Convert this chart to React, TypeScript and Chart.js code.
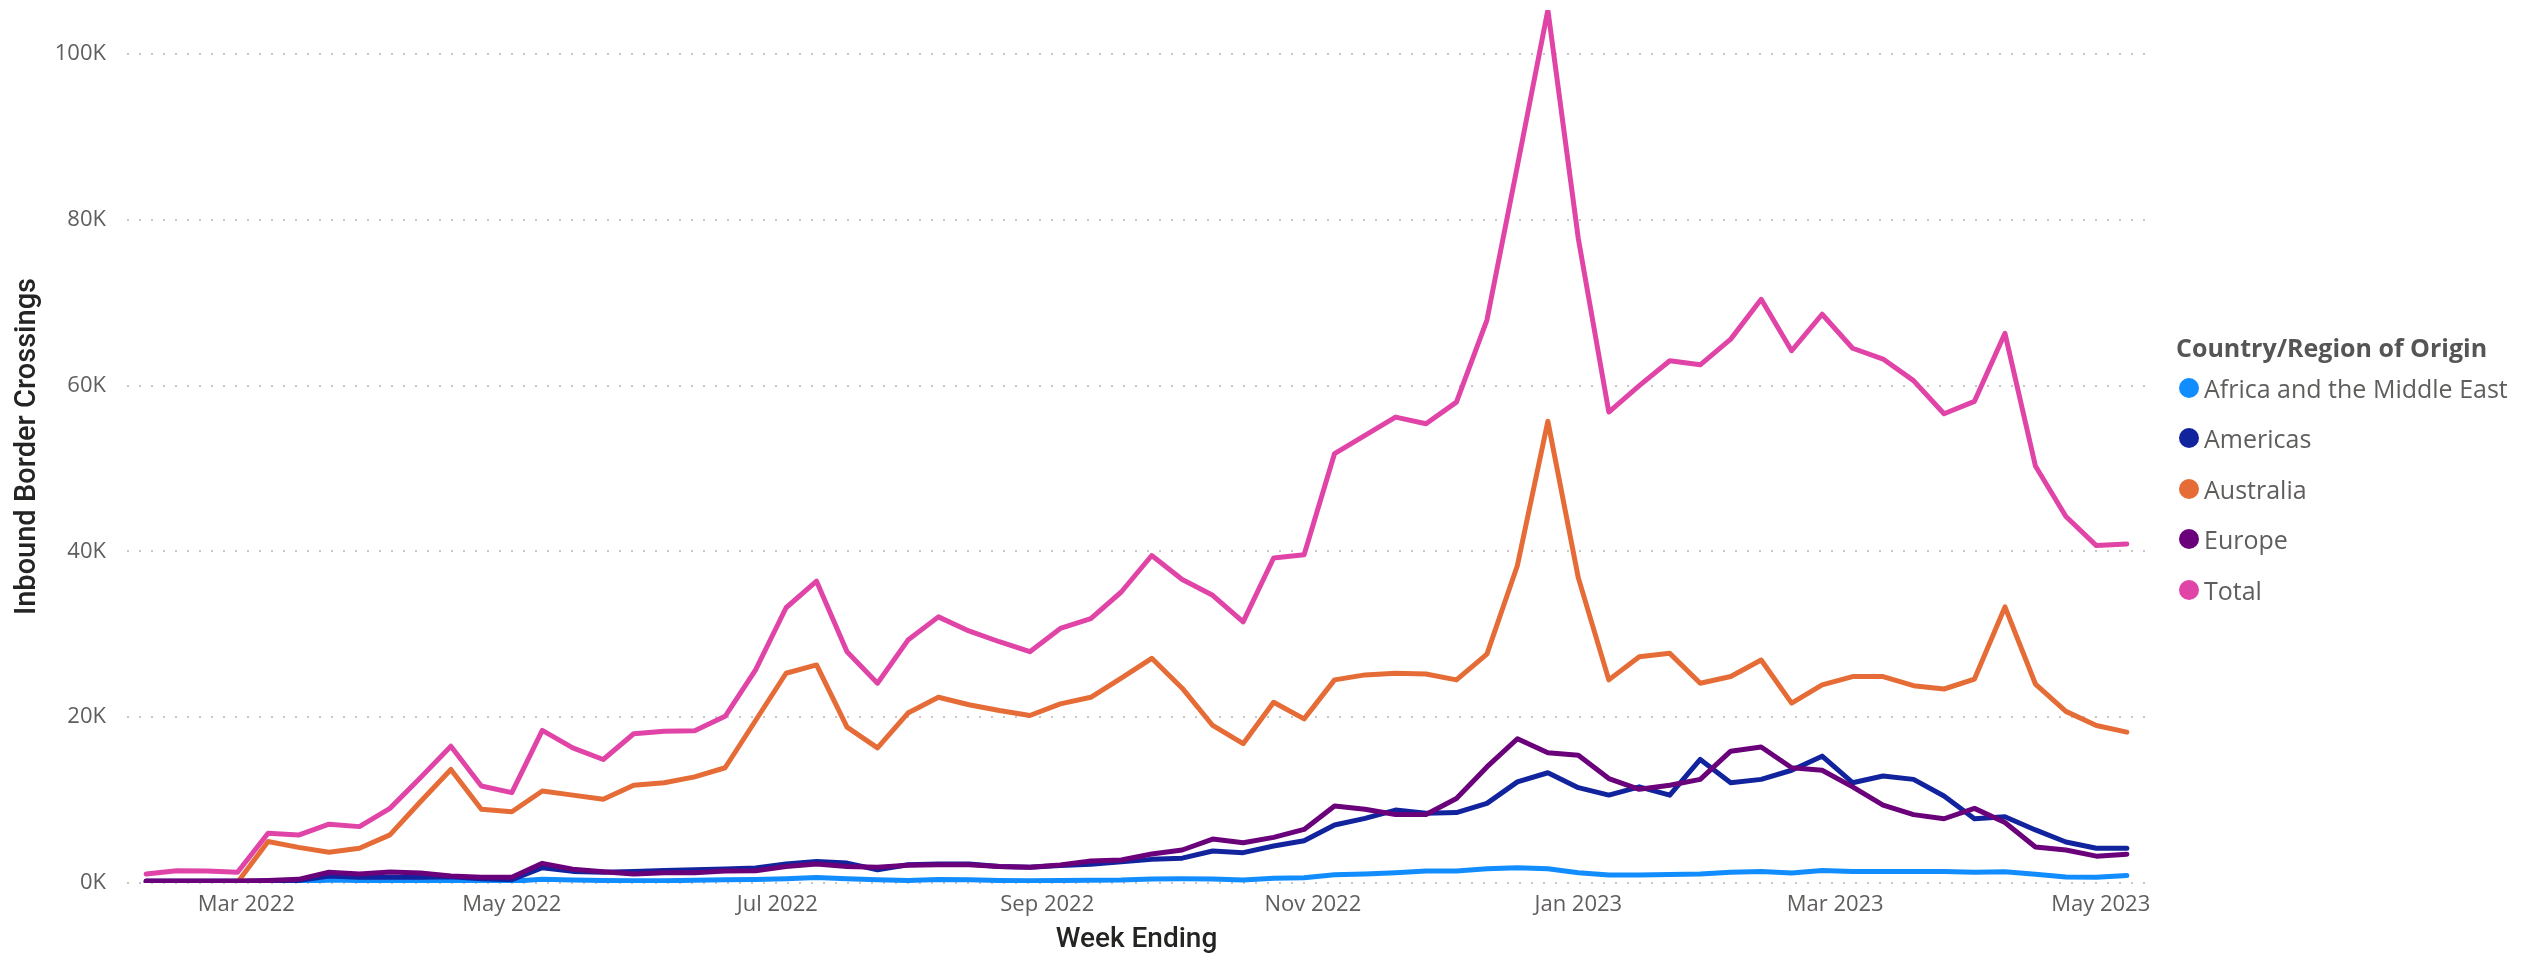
import React, { useEffect, useRef } from "react";
import { Chart, registerables } from "chart.js";

Chart.register(...registerables);

const weekEnding = [
  "2022-02-06", "2022-02-13", "2022-02-20", "2022-02-27",
  "2022-03-06", "2022-03-13", "2022-03-20", "2022-03-27",
  "2022-04-03", "2022-04-10", "2022-04-17", "2022-04-24",
  "2022-05-01", "2022-05-08", "2022-05-15", "2022-05-22", "2022-05-29",
  "2022-06-05", "2022-06-12", "2022-06-19", "2022-06-26",
  "2022-07-03", "2022-07-10", "2022-07-17", "2022-07-24", "2022-07-31",
  "2022-08-07", "2022-08-14", "2022-08-21", "2022-08-28",
  "2022-09-04", "2022-09-11", "2022-09-18", "2022-09-25",
  "2022-10-02", "2022-10-09", "2022-10-16", "2022-10-23", "2022-10-30",
  "2022-11-06", "2022-11-13", "2022-11-20", "2022-11-27",
  "2022-12-04", "2022-12-11", "2022-12-18", "2022-12-25",
  "2023-01-01", "2023-01-08", "2023-01-15", "2023-01-22", "2023-01-29",
  "2023-02-05", "2023-02-12", "2023-02-19", "2023-02-26",
  "2023-03-05", "2023-03-12", "2023-03-19", "2023-03-26",
  "2023-04-02", "2023-04-09", "2023-04-16", "2023-04-23", "2023-04-30",
  "2023-05-07",
];

const africaMiddleEast = [
  50, 50, 50, 50, 80, 100, 350, 300, 300, 250, 250, 200, 200, 450, 350, 300, 280,
  280, 320, 380, 420, 500, 650, 500, 380, 300, 420, 380, 300, 280, 300, 330, 350,
  480, 500, 480, 360, 560, 640, 1000, 1080, 1240, 1440, 1440, 1730, 1850, 1730,
  1240, 960, 960, 1040, 1080, 1300, 1400, 1200, 1500, 1400, 1400, 1400, 1400, 1300,
  1350, 1050, 730, 680, 900,
];

const americas = [
  200, 200, 200, 200, 200, 300, 840, 700, 700, 700, 750, 500, 400, 1850, 1400, 1300,
  1400, 1500, 1600, 1700, 1800, 2300, 2600, 2400, 1600, 2200, 2300, 2300, 2000, 1900,
  2100, 2250, 2570, 2850, 3000, 3860, 3660, 4460, 5100, 7000, 7800, 8800, 8400, 8500,
  9600, 12200, 13300, 11500, 10600, 11600, 10600, 14900, 12100, 12500, 13600, 15300,
  12100, 12900, 12500, 10500, 7750, 8000, 6400, 4940, 4200, 4200,
];

const australia = [
  150, 120, 120, 100, 5000, 4300, 3700, 4200, 5800, 9800, 13700, 8900, 8600, 11100,
  10600, 10100, 11800, 12100, 12800, 13900, 19600, 25300, 26300, 18800, 16300, 20500,
  22400, 21500, 20800, 20200, 21600, 22400, 24700, 27100, 23500, 19000, 16800, 21800,
  19800, 24500, 25100, 25300, 25200, 24500, 27600, 38300, 55700, 36800, 24500, 27300,
  27700, 24100, 24900, 26900, 21700, 23900, 24900, 24900, 23800, 23400, 24600, 33300,
  24000, 20700, 19000, 18200,
];

const europe = [
  240, 240, 240, 240, 300, 440, 1290, 1080, 1330, 1200, 840, 680, 680, 2370, 1650,
  1360, 1080, 1240, 1240, 1440, 1480, 2000, 2300, 2000, 1900, 2150, 2200, 2200, 2000,
  1900, 2170, 2650, 2770, 3500, 3980, 5300, 4860, 5500, 6460, 9300, 8900, 8270, 8270,
  10200, 14000, 17400, 15700, 15400, 12600, 11300, 11800, 12500, 15900, 16400, 13900,
  13600, 11600, 9400, 8250, 7750, 9000, 7300, 4350, 3980, 3240, 3470,
];

const total = [
  1080, 1480, 1450, 1290, 6000, 5780, 7100, 6800, 9000, 12700, 16500, 11700, 10900,
  18400, 16300, 14900, 18000, 18300, 18350, 20100, 25700, 33200, 36400, 27900, 24100,
  29300, 32100, 30400, 29100, 27900, 30700, 31900, 35100, 39500, 36600, 34700, 31500,
  39200, 39600, 51800, 54000, 56200, 55400, 58000, 67900, 86500, 105300, 77700, 56800,
  60000, 63000, 62500, 65600, 70400, 64200, 68600, 64500, 63200, 60600, 56600, 58100,
  66300, 50300, 44200, 40700, 40900,
];

const seriesNames = ["Africa and the Middle East", "Americas", "Australia", "Europe", "Total"];
const seriesValues = [africaMiddleEast, americas, australia, europe, total];
const seriesColors = ["#118DFF", "#12239E", "#E66C37", "#6B007B", "#E044A7"];

const xTickDates = [
  "2022-03-01", "2022-05-01", "2022-07-01", "2022-09-01",
  "2022-11-01", "2023-01-01", "2023-03-01", "2023-05-01",
];
const xTickLabels = [
  "Mar 2022", "May 2022", "Jul 2022", "Sep 2022",
  "Nov 2022", "Jan 2023", "Mar 2023", "May 2023",
];
const yTickValues = [0, 20000, 40000, 60000, 80000, 100000];
const yTickLabels = ["0K", "20K", "40K", "60K", "80K", "100K"];

const legendTitle = "Country/Region of Origin";
const xTitle = "Week Ending";
const yTitle = "Inbound Border Crossings";

const DAY = 86400000;
const toX = (d: string) => Date.parse(d + "T00:00:00Z");

export default function App() {
  const ref = useRef<HTMLCanvasElement | null>(null);

  useEffect(() => {
    document.body.style.margin = "0";
    const canvas = ref.current;
    if (!canvas) return;
    const datasets = seriesNames.map((name, s) => ({
      label: name,
      data: weekEnding.map((d, i) => ({ x: toX(d), y: seriesValues[s][i] })),
      borderColor: seriesColors[s],
      backgroundColor: seriesColors[s],
      order: seriesNames.length - s,
    }));
    const chart = new Chart(canvas, {
      type: "line",
      data: { datasets },
      options: {
        animation: false,
        responsive: false,
        maintainAspectRatio: false,
        layout: { padding: { left: 0, top: 10, right: 2546 - 2146, bottom: 0 } },
        plugins: { legend: { display: false }, tooltip: { enabled: false } },
        elements: {
          point: { radius: 0 },
          line: {
            borderWidth: 5,
            tension: 0,
            borderJoinStyle: "round",
            borderCapStyle: "round",
          },
        },
        scales: {
          x: {
            type: "linear",
            min: toX(weekEnding[0]) - 4.4 * DAY,
            max: toX(weekEnding[weekEnding.length - 1]) + 4.4 * DAY,
            afterBuildTicks: (s: any) => {
              s.ticks = xTickDates.map((d) => ({ value: toX(d) }));
            },
            afterFit: (s: any) => {
              s.height = 77;
              s.paddingLeft = 0;
              s.paddingRight = 0;
            },
            grid: { display: false, drawTicks: false },
            border: { display: false },
            ticks: {
              autoSkip: false,
              maxRotation: 0,
              minRotation: 0,
              padding: 9,
              color: "#605E5C",
              font: { family: "'Open Sans'", size: 22 },
              callback: (_v: any, i: number) => xTickLabels[i],
            },
            title: {
              display: true,
              text: xTitle,
              color: "#252423",
              font: { family: "Roboto", size: 28, weight: "500" },
              padding: { top: 6, bottom: 3 },
            },
          },
          y: {
            min: 0,
            max: 105300,
            afterBuildTicks: (s: any) => {
              s.ticks = yTickValues.map((v) => ({ value: v }));
            },
            afterFit: (s: any) => {
              s.width = 127;
              s.paddingTop = 0;
              s.paddingBottom = 0;
            },
            grid: { color: "#C8C6C4", lineWidth: 2, drawTicks: false },
            border: { display: false, dash: [2, 10] },
            ticks: {
              padding: 21,
              color: "#605E5C",
              font: { family: "'Open Sans'", size: 22 },
              callback: (_v: any, i: number) => yTickLabels[i],
            },
            title: {
              display: true,
              text: yTitle,
              color: "#252423",
              font: { family: "Roboto", size: 29, weight: "500" },
              padding: { top: 10, bottom: 0 },
            },
          },
        },
      },
    });
    return () => chart.destroy();
  }, []);

  const rowCenters = [388, 438, 489, 539, 590];

  return (
    <div style={{ position: "absolute", left: 0, top: 0, width: 2546, height: 960, background: "#fff" }}>
      <canvas ref={ref} width={2546} height={960} style={{ position: "absolute", left: 0, top: 0, width: 2546, height: 960 }} />
      <div
        style={{
          position: "absolute",
          left: 2176,
          top: 347 - 17,
          height: 34,
          lineHeight: "34px",
          fontFamily: "'Open Sans'",
          fontWeight: 700,
          fontSize: 25,
          color: "#555555",
          whiteSpace: "nowrap",
        }}
      >
        {legendTitle}
      </div>
      {seriesNames.map((name, i) => (
        <div
          key={name}
          style={{
            position: "absolute",
            left: 2179,
            top: rowCenters[i] - 17,
            height: 34,
            display: "flex",
            alignItems: "center",
            whiteSpace: "nowrap",
          }}
        >
          <span
            style={{
              display: "inline-block",
              width: 20,
              height: 20,
              borderRadius: 10,
              background: seriesColors[i],
              marginRight: 5,
              flexShrink: 0,
            }}
          />
          <span style={{ fontFamily: "'Open Sans'", fontSize: 25, color: "#605E5C", lineHeight: "34px" }}>{name}</span>
        </div>
      ))}
    </div>
  );
}
